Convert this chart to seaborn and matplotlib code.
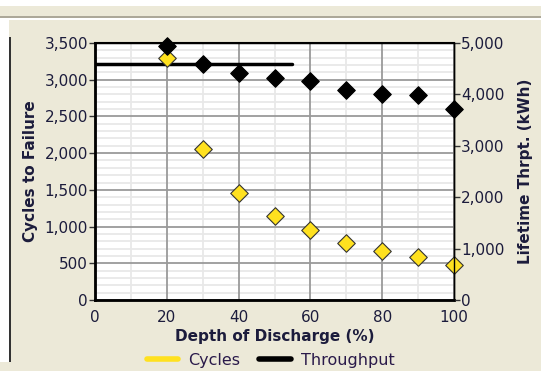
import pandas as pd
import matplotlib.pyplot as plt
import seaborn as sns
from matplotlib.lines import Line2D
from matplotlib.patches import Rectangle
from matplotlib.ticker import MultipleLocator, FuncFormatter

# Values
depth = [20, 30, 40, 50, 60, 70, 80, 90, 100]
cycles = [3300, 2050, 1460, 1150, 950, 770, 670, 590, 480]
throughput = [4950, 4600, 4410, 4310, 4270, 4090, 4000, 3980, 3720]
ref_line_x = [0, 55]
ref_line_cycles = [3220, 3220]

df = pd.DataFrame({'Depth': depth, 'Cycles': cycles, 'Throughput': throughput})

BEIGE = '#ECE9D8'
TXT = '#1c1c3c'
YELLOW = '#FFE11F'

sns.set_style('white')
plt.rcParams['font.family'] = ['DejaVu Sans']

fig = plt.figure(figsize=(5.41, 3.71), dpi=100, facecolor=BEIGE)

# window chrome around the chart
W, H = 541, 371
fig.patches.append(Rectangle((0, 1 - 6 / H), 1, 6 / H, transform=fig.transFigure,
                             facecolor='white', edgecolor='none', zorder=0))
fig.patches.append(Rectangle((0, 1 - 18 / H), 1, 1.5 / H, transform=fig.transFigure,
                             facecolor='#ACA899', edgecolor='none', zorder=0))
fig.patches.append(Rectangle((0, 1 - 19.5 / H), 1, 1.5 / H, transform=fig.transFigure,
                             facecolor='white', edgecolor='none', zorder=0))
fig.patches.append(Rectangle((0, 1 - 362 / H), 9 / W, (362 - 20) / H, transform=fig.transFigure,
                             facecolor='white', edgecolor='none', zorder=0))
fig.patches.append(Rectangle((9 / W, 1 - 362 / H), 1.5 / W, (362 - 37) / H, transform=fig.transFigure,
                             facecolor='#333333', edgecolor='none', zorder=0))

ax = fig.add_axes([95 / W, 1 - 300 / H, (454 - 95) / W, (300 - 43) / H])
ax.set_facecolor('white')
ax2 = ax.twinx()

ax.set_xlim(0, 100)
ax.set_ylim(0, 3500)
ax2.set_ylim(0, 5000)
ax.xaxis.set_major_locator(MultipleLocator(20))
ax.yaxis.set_major_locator(MultipleLocator(500))
ax2.yaxis.set_major_locator(MultipleLocator(1000))

# light minor grid first, darker major grid on top of it
minor_x = [v for v in range(10, 100, 10) if v % 20]
minor_y = [v for v in range(100, 3500, 100) if v % 500]
ax.vlines(minor_x, 0, 3500, color='#e8e8e8', linewidth=1.3, zorder=0.2)
ax.hlines(minor_y, 0, 100, color='#e8e8e8', linewidth=1.3, zorder=0.2)
ax.grid(which='major', color='#9a9a9a', linewidth=1.3)
ax.set_axisbelow(True)

# reference line and markers
ax.plot(ref_line_x, ref_line_cycles, color='black', linewidth=2.5, zorder=3)
sns.scatterplot(data=df, x='Depth', y='Cycles', ax=ax, marker='D', s=80,
                color=YELLOW, edgecolor='#333333', linewidth=0.8, zorder=4, clip_on=False)
sns.scatterplot(data=df, x='Depth', y='Throughput', ax=ax2, marker='D', s=80,
                color='black', edgecolor='black', linewidth=0.8, zorder=4, clip_on=False)

fmt = FuncFormatter(lambda v, p: f'{int(v):,}')
ax.yaxis.set_major_formatter(fmt)
ax2.yaxis.set_major_formatter(fmt)

for a in (ax, ax2):
    for s in a.spines.values():
        s.set_color('black')
        s.set_linewidth(1.0)
ax.spines['left'].set_linewidth(2)
ax.spines['bottom'].set_linewidth(2)
ax.spines['top'].set_linewidth(1.5)

ax.tick_params(axis='both', which='major', direction='out', length=4, width=1,
               color='#333333', labelsize=11, labelcolor=TXT, pad=1)
ax.tick_params(axis='x', pad=3)
ax2.tick_params(axis='y', direction='out', length=4, width=1, color='#333333',
                labelsize=11, labelcolor=TXT, pad=1)

ax.set_xlabel('Depth of Discharge (%)', fontsize=11, fontweight='bold', color=TXT, labelpad=3)
ax.set_ylabel('Cycles to Failure', fontsize=11, fontweight='bold', color=TXT, labelpad=5)
ax2.set_ylabel('Lifetime Thrpt. (kWh)', fontsize=11, fontweight='bold', color=TXT, labelpad=10)

handles = [Line2D([0], [0], color=YELLOW, linewidth=4),
           Line2D([0], [0], color='black', linewidth=4)]
leg = fig.legend(handles, ['Cycles', 'Throughput'], loc='lower center',
                 bbox_to_anchor=(0.5, -0.03), ncol=2, frameon=False,
                 fontsize=11.5, handlelength=2.0, columnspacing=1.2, handletextpad=0.6)
for t in leg.get_texts():
    t.set_color('#2a1a4a')

fig.savefig('out.png', dpi=100, facecolor=BEIGE)
